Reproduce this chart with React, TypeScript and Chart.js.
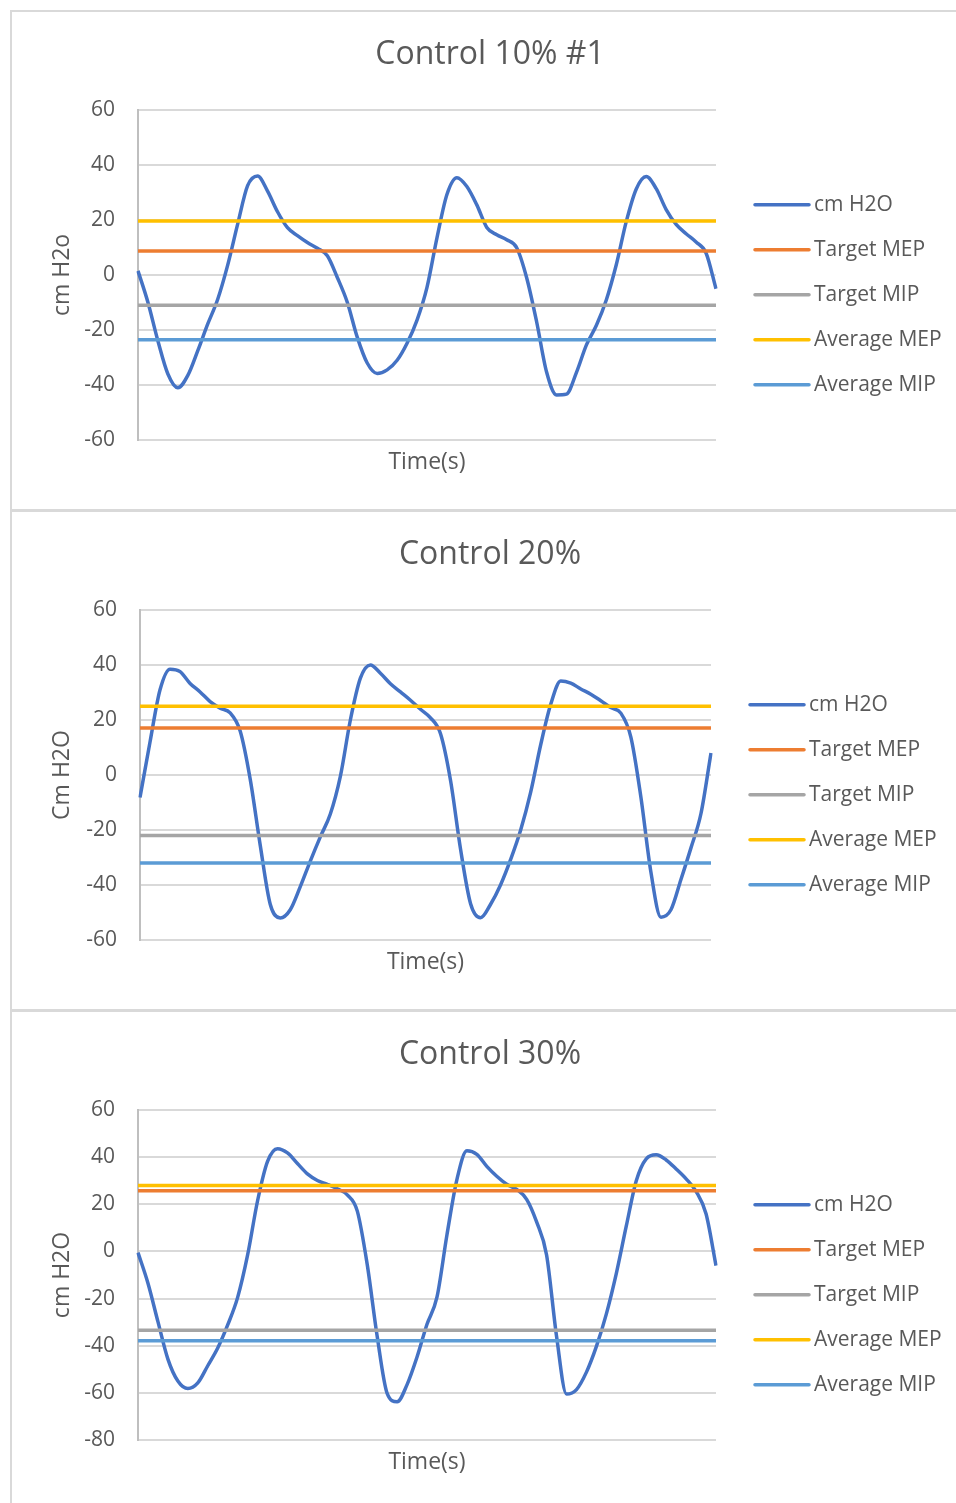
import React, { useEffect, useRef } from 'react';
import { Chart, registerables } from 'chart.js';

Chart.register(...registerables);

// ---------- data ----------
const seriesLabels = ['cm H2O', 'Target MEP', 'Target MIP', 'Average MEP', 'Average MIP'];
const seriesColors = ['#4472C4', '#ED7D31', '#A5A5A5', '#FFC000', '#5B9BD5'];

const chartTitles = ['Control 10% #1', 'Control 20%', 'Control 30%'];
const yAxisTitles = ['cm H2o', 'Cm H2O', 'cm H2O'];
const xAxisTitle = 'Time(s)';

// pressure samples (cm H2O), one per time step
const control10Pressure = [
  1.5, -10, -24, -36, -41, -36.5, -27.5, -17.8, -8.8, 3.6,
  18.5, 32.5, 36, 30.5, 23, 17.2, 14.3, 11.8, 9.7, 7,
  -0.9, -9.9, -22.6, -32, -35.8, -34.5, -31, -24.8, -16.4, -4.5,
  13.5, 29.3, 35.4, 32.2, 25.5, 17.3, 14.6, 12.8, 9.9, -1,
  -17, -35.3, -43.6, -43.3, -35.4, -25.4, -18.3, -9, 3.8, 19.5,
  31.3, 35.8, 31.4, 23.8, 18.4, 15, 12, 8, -5,
];
const control20Pressure = [
  -8.2, 12, 31, 38.5, 37.6, 33.3, 30.2, 26.7, 24.3, 22.6,
  16, -1.5, -25.5, -47, -52, -49, -40.6, -31.3, -22.5, -14.2,
  -0.5, 20, 35.2, 40, 37, 33.2, 30.2, 27.2, 23.9, 20.8,
  15, -2, -27, -46.8, -51.9, -47, -39.9, -30.7, -20, -6.2,
  11, 25.7, 34.2, 33.4, 31.3, 29.4, 27, 24.5, 22.5, 13.8,
  -8, -35.3, -51.7, -49, -38, -26.5, -14, 8,
];
const control30Pressure = [
  -0.5, -13.5, -29.8, -45.7, -55, -58.2, -55.8, -48.5, -41, -31.2,
  -19.5, -1.5, 21.5, 38.2, 43.6, 41.8, 37.3, 32.9, 30.1, 28.5,
  26.6, 24, 17.2, -5.5, -36, -60.2, -63.8, -56.5, -44.8, -30.9,
  -19.4, 7, 30.5, 42.7, 41.2, 36.1, 31.9, 28.5, 26.3, 22.1,
  12.5, -1.5, -36, -60.5, -58.6, -51.2, -40.3, -26.5, -9.3, 10.8,
  30, 39.3, 41, 38.8, 35, 30.8, 25.5, 16, -6,
];

// reference levels: [Target MEP, Target MIP, Average MEP, Average MIP]
const control10Levels = [8.7, -11, 19.6, -23.5];
const control20Levels = [17.1, -22, 25, -32];
const control30Levels = [25.7, -33.4, 28, -37.9];

// y-axis ranges [min, max]
const control10Range = [-60, 60];
const control20Range = [-60, 60];
const control30Range = [-80, 60];
const yTickStep = 20;

// ---------- styling ----------
const FONT = "'Open Sans', sans-serif";
const TEXT = '#595959';
const CANVAS_W = 960;
const CANVAS_H = 500;

const sideLegend = {
  id: 'sideLegend',
  afterDraw(chart: any, _args: any, opts: any) {
    const ctx = chart.ctx;
    ctx.save();
    ctx.font = `21px ${FONT}`;
    ctx.textBaseline = 'middle';
    ctx.textAlign = 'left';
    chart.data.datasets.forEach((ds: any, i: number) => {
      const y = opts.top + i * opts.spacing;
      ctx.strokeStyle = ds.borderColor;
      ctx.lineWidth = 3.5;
      ctx.lineCap = 'round';
      ctx.beginPath();
      ctx.moveTo(opts.lineStart, y);
      ctx.lineTo(opts.lineEnd, y);
      ctx.stroke();
      ctx.fillStyle = TEXT;
      ctx.fillText(ds.label, opts.textX, y + 0.5);
    });
    ctx.restore();
  },
};

type PanelCfg = {
  title: string;
  yTitle: string;
  pressure: number[];
  levels: number[];
  range: number[];
  top: number;
  plotLeft: number;
  plotRight: number;
  legendX: number;
};

function PressurePanel({ cfg }: { cfg: PanelCfg }) {
  const ref = useRef<HTMLCanvasElement | null>(null);
  useEffect(() => {
    if (!ref.current) return;
    const labels = cfg.pressure.map((_, i) => String(i + 1));
    const seriesData = [cfg.pressure, ...cfg.levels.map((v) => cfg.pressure.map(() => v))];
    const datasets = seriesData.map((data, i) => ({
      label: seriesLabels[i],
      data,
      borderColor: seriesColors[i],
      backgroundColor: seriesColors[i],
      borderWidth: 3.5,
      pointRadius: 0,
      pointHoverRadius: 0,
      fill: false,
      tension: i === 0 ? 0.4 : 0,
      cubicInterpolationMode: i === 0 ? 'monotone' : 'default',
      order: 5 - i,
    }));
    const chart = new Chart(ref.current, {
      type: 'line',
      data: { labels, datasets } as any,
      options: {
        responsive: false,
        animation: false,
        devicePixelRatio: 1,
        layout: { padding: 0 },
        events: [],
        plugins: {
          legend: { display: false },
          tooltip: { enabled: false },
          title: {
            display: true,
            text: cfg.title,
            color: TEXT,
            font: { family: FONT, size: 32, weight: 'normal' },
            padding: { top: 25.8, bottom: 35.8 },
          },
          sideLegend: {
            lineStart: cfg.legendX,
            lineEnd: cfg.legendX + 54,
            textX: cfg.legendX + 59,
            top: 194.7,
            spacing: 45,
          },
        } as any,
        scales: {
          x: {
            type: 'category',
            offset: false,
            grid: { display: false, drawTicks: false },
            border: { display: false },
            ticks: { display: false },
            title: {
              display: true,
              text: xAxisTitle,
              color: TEXT,
              font: { family: FONT, size: 23 },
              padding: { top: 8.2, bottom: 34.2 },
            },
          },
          y: {
            type: 'linear',
            position: 'left',
            min: cfg.range[0],
            max: cfg.range[1],
            ticks: { stepSize: yTickStep, color: TEXT, font: { family: FONT, size: 21 }, padding: 23 },
            grid: { color: '#D9D9D9', lineWidth: 2, drawTicks: false },
            border: { display: true, color: '#BFBFBF', width: 2 },
            title: {
              display: true,
              text: cfg.yTitle,
              color: TEXT,
              font: { family: FONT, size: 23 },
              padding: { top: 38.2, bottom: 0 },
            },
            afterFit: (s: any) => {
              s.width = cfg.plotLeft;
            },
          },
          legendSpace: {
            type: 'linear',
            position: 'right',
            display: true,
            grid: { display: false, drawTicks: false },
            border: { display: false },
            ticks: { display: false },
            afterFit: (s: any) => {
              s.width = CANVAS_W - cfg.plotRight;
            },
          },
        },
      } as any,
      plugins: [sideLegend],
    });
    return () => chart.destroy();
  }, [cfg]);

  return (
    <>
      <canvas
        ref={ref}
        width={CANVAS_W}
        height={CANVAS_H}
        style={{ position: 'absolute', left: 10, top: cfg.top, width: CANVAS_W, height: CANVAS_H }}
      />
      <div
        style={{
          position: 'absolute',
          left: 10,
          top: cfg.top,
          width: CANVAS_W,
          height: CANVAS_H + 1,
          border: '2px solid #D9D9D9',
          boxSizing: 'border-box',
          pointerEvents: 'none',
        }}
      />
    </>
  );
}

const panels: PanelCfg[] = [
  { title: chartTitles[0], yTitle: yAxisTitles[0], pressure: control10Pressure, levels: control10Levels, range: control10Range, top: 10, plotLeft: 128, plotRight: 706, legendX: 745 },
  { title: chartTitles[1], yTitle: yAxisTitles[1], pressure: control20Pressure, levels: control20Levels, range: control20Range, top: 510, plotLeft: 130, plotRight: 701, legendX: 740 },
  { title: chartTitles[2], yTitle: yAxisTitles[2], pressure: control30Pressure, levels: control30Levels, range: control30Range, top: 1010, plotLeft: 128, plotRight: 706, legendX: 745 },
];

export default function App() {
  return (
    <div
      style={{
        position: 'absolute',
        left: 0,
        top: 0,
        width: 956,
        height: 1503,
        overflow: 'hidden',
        background: '#FFFFFF',
      }}
    >
      {panels.map((p, i) => (
        <PressurePanel key={i} cfg={p} />
      ))}
    </div>
  );
}
